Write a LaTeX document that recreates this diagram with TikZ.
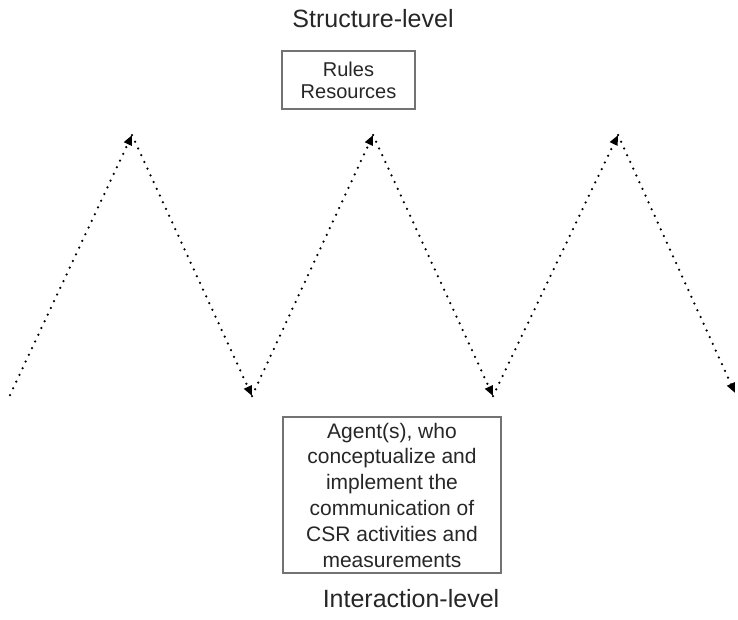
\documentclass[tikz,border=0pt]{standalone}
\usepackage{fontspec}
\setmainfont{Liberation Sans}
\usetikzlibrary{arrows.meta}
\begin{document}
\begin{tikzpicture}[x=1pt,y=-1pt,
    levelbox/.style={draw=black!55,line width=1.2pt,align=center,inner sep=0pt,text=black!85},
    title/.style={text=black!85,font=\fontsize{25}{30}\selectfont},
    zig/.style={line width=2.5pt,dash pattern=on 0pt off 7.4pt,line cap=round,
      -{Triangle[length=10pt,width=8pt]}}]
  \useasboundingbox (0,0) rectangle (738,619);

  \node[title] (structure) at (373,19) {Structure-level};
  \node[levelbox,minimum width=133pt,minimum height=58pt,
    font=\fontsize{20}{22}\selectfont] (rules) at (348.5,80) {Rules\\Resources};

  \node[levelbox,minimum width=218pt,minimum height=156pt,
    font=\fontsize{21}{25.8}\selectfont] (agents) at (392,495)
    {Agent(s), who\\conceptualize and\\implement the\\communication of\\CSR activities and\\measurements};
  \node[title] (interaction) at (411,599) {Interaction-level};

  % zigzag between the two levels
  \coordinate (p0) at (10,395);
  \coordinate (t1) at (132,135);
  \coordinate (b1) at (252,396);
  \coordinate (t2) at (373,135);
  \coordinate (b2) at (493,396);
  \coordinate (t3) at (618,135);
  \coordinate (p1) at (735,393);
  \foreach \a/\b in {p0/t1,t1/b1,b1/t2,t2/b2,b2/t3,t3/p1} {
    \draw[zig] (\a) -- (\b);
  }
\end{tikzpicture}
\end{document}
